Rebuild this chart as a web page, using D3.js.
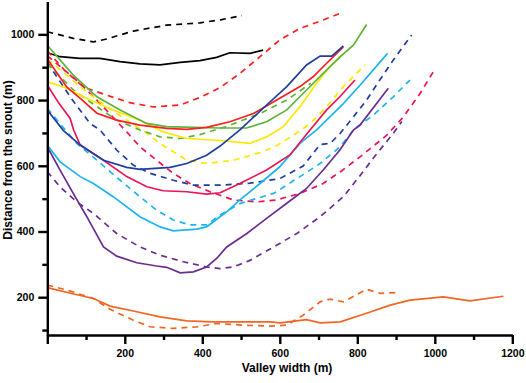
<!DOCTYPE html>
<html>
<head>
<meta charset="utf-8">
<script src="https://cdn.jsdelivr.net/npm/d3@7"></script>
<style>
  body { margin: 0; background: #fff; }
  svg text { font-family: "Liberation Sans", Arial, sans-serif; font-weight: bold; }
</style>
</head>
<body>
<div id="chart"></div>
<script>
// valley width (m) vs distance from the snout (m), one profile per series
const blackDashed = [[0,1008],[67,988],[119,977],[153,986],[222,1010],[308,1028],[394,1035],[450,1045],[502,1057]]
const blackSolid = [[0,944],[33,932],[84,927],[136,927],[188,917],[239,910],[291,907],[343,915],[394,920],[437,930],[471,944],[523,942],[557,952]]
const redDashed = [[0,950],[45,890],[93,840],[153,815],[213,792],[274,779],[343,785],[394,808],[446,838],[497,881],[549,932],[600,983],[652,1018],[704,1040],[756,1064]]
const redSolid = [[0,925],[50,840],[85,805],[128,760],[179,739],[239,724],[308,714],[360,711],[411,717],[471,734],[532,759],[592,800],[652,841],[686,871],[721,912],[764,962]]
const greenSolid = [[0,967],[67,876],[128,810],[188,770],[256,729],[308,719],[377,717],[446,715],[514,715],[566,734],[618,770],[660,820],[712,881],[756,932],[790,967],[824,1030]]
const greenDashed = [[0,910],[68,830],[128,780],[179,739],[239,709],[291,688],[343,683],[394,695],[463,720],[549,759],[618,800],[680,851]]
const yellowSolid = [[0,856],[50,836],[110,800],[170,770],[239,739],[299,703],[360,683],[446,677],[523,668],[566,688],[609,719],[652,780],[695,851],[729,901],[760,937]]
const yellowDashed = [[0,925],[50,876],[101,825],[153,780],[205,739],[256,700],[291,668],[360,617],[411,607],[481,617],[549,640],[592,661],[635,693],[678,728],[721,780],[764,841],[820,907]]
const blueSolid = [[0,770],[41,708],[85,663],[145,617],[205,595],[239,589],[317,595],[360,607],[411,632],[446,660],[497,709],[566,785],[618,841],[669,907],[704,934],[734,934],[764,965]]
const blueDashed = [[0,915],[59,810],[110,729],[136,709],[179,648],[222,602],[265,577],[325,556],[377,541],[446,541],[523,547],[600,561],[661,600],[704,665],[730,668],[756,699],[790,749],[824,800],[858,861],[893,922],[940,998]]
const crimsonSolid = [[0,846],[30,790],[59,744],[68,709],[85,663],[145,617],[205,567],[257,536],[299,524],[360,521],[411,514],[446,518],[497,546],[566,587],[626,633],[678,709],[721,770],[755,810],[794,861]]
const crimsonDashed = [[0,935],[85,851],[136,790],[205,703],[239,658],[282,617],[325,577],[368,546],[420,521],[480,496],[540,490],[592,496],[652,516],[712,546],[760,585],[807,627],[876,693],[919,749],[962,820],[996,886]]
const cyanSolid = [[0,663],[33,612],[85,567],[119,546],[170,506],[239,445],[291,414],[325,402],[386,407],[411,414],[463,460],[497,496],[549,546],[600,597],[652,668],[695,709],[764,789],[807,845],[878,942]]
const cyanDashed = [[0,775],[40,718],[76,668],[128,617],[188,556],[239,506],[282,465],[325,435],[368,420],[411,420],[446,450],[497,485],[584,516],[652,567],[704,607],[756,658],[790,709],[841,754],[893,810],[936,861]]
const purpleSolid = [[0,658],[33,587],[67,516],[102,445],[145,353],[179,325],[231,305],[282,295],[308,291],[343,274],[377,277],[411,292],[437,318],[463,353],[515,394],[566,440],[618,486],[669,531],[712,587],[755,648],[790,709],[807,724],[880,836]]
const purpleDashed = [[0,582],[33,536],[76,490],[119,455],[179,394],[239,353],[291,328],[351,308],[411,292],[446,287],[480,292],[523,312],[584,353],[644,394],[704,445],[764,506],[807,570],[841,623],[893,699],[915,735]]
const orangeSolid = [[0,229],[60,212],[119,196],[162,173],[222,158],[291,140],[360,128],[429,125],[498,125],[575,125],[601,122],[669,132],[704,122],[756,125],[824,151],[885,176],[936,191],[1022,201],[1091,189],[1177,203]]
const orangeDashed = [[0,237],[50,222],[119,196],[162,163],[222,130],[265,110],[325,105],[386,110],[437,120],[506,115],[575,112],[618,115],[661,146],[704,186],[730,194],[764,186],[824,224],[859,212],[902,214]]

const xMajor = [0, 200, 400, 600, 800, 1000, 1200]
const xMinor = [100, 300, 500, 700, 900, 1100]
const yMajor = [200, 400, 600, 800, 1000]
const yMinor = [100, 300, 500, 700, 900]

// drawing order and look of each profile
const series = [
  {data: blackDashed, color: '#000000', dash: true},
  {data: blackSolid, color: '#000000', dash: false},
  {data: redDashed, color: '#ff1f1f', dash: true},
  {data: purpleDashed, color: '#6b2c91', dash: true},
  {data: crimsonDashed, color: '#ec1556', dash: true},
  {data: cyanDashed, color: '#1cb5ee', dash: true},
  {data: blueDashed, color: '#1e3ea0', dash: true},
  {data: yellowDashed, color: '#ffe800', dash: true},
  {data: greenDashed, color: '#5db43a', dash: true},
  {data: purpleSolid, color: '#6b2c91', dash: false},
  {data: cyanSolid, color: '#1cb5ee', dash: false},
  {data: crimsonSolid, color: '#ec1556', dash: false},
  {data: yellowSolid, color: '#ffe800', dash: false},
  {data: greenSolid, color: '#5db43a', dash: false},
  {data: redSolid, color: '#ff1f1f', dash: false},
  {data: blueSolid, color: '#1e3ea0', dash: false},
  {data: orangeDashed, color: '#f26522', dash: true},
  {data: orangeSolid, color: '#f26522', dash: false}
]

const width = 526, height = 383

const x = d3.scaleLinear().domain([0, 1200]).range([47.3, 512.3])
const y = d3.scaleLinear().domain([85, 1100]).range([335, 1.5])

const svg = d3.select('#chart').append('svg')
  .attr('width', width).attr('height', height)

const line = d3.line().x(d => x(d[0])).y(d => y(d[1]))

svg.append('g').selectAll('path')
  .data(series)
  .join('path')
  .attr('d', d => line(d.data))
  .attr('fill', 'none')
  .attr('stroke', d => d.color)
  .attr('stroke-width', 1.7)
  .attr('stroke-dasharray', d => d.dash ? '6,5' : null)

// x axis: labelled majors + short minors
const xAxis = svg.append('g').attr('transform', `translate(0, ${y(85)})`)
xAxis.call(d3.axisBottom(x).tickValues(xMajor).tickSize(9).tickSizeOuter(0).tickPadding(6)
  .tickFormat(d => d === 0 ? '' : d3.format('d')(d)))
xAxis.append('g').call(d3.axisBottom(x).tickValues(xMinor).tickSize(5).tickFormat(''))
  .select('.domain').remove()

const yAxis = svg.append('g').attr('transform', `translate(${x(0)}, 0)`)
yAxis.call(d3.axisLeft(y).tickValues(yMajor).tickSize(9).tickSizeOuter(0).tickPadding(4)
  .tickFormat(d3.format('d')))
yAxis.append('g').call(d3.axisLeft(y).tickValues(yMinor).tickSize(5).tickFormat(''))
  .select('.domain').remove()

svg.selectAll('.domain, .tick line')
  .attr('stroke', '#000').attr('stroke-width', 2.4)
svg.selectAll('.tick text')
  .attr('fill', '#000').style('font-size', '10.5px').style('font-weight', 'bold')

svg.append('text')
  .attr('x', 287).attr('y', 372)
  .attr('text-anchor', 'middle')
  .style('font-size', '12px')
  .text('Valley width (m)')

svg.append('text')
  .attr('transform', 'translate(12, 160) rotate(-90)')
  .attr('text-anchor', 'middle')
  .style('font-size', '12px')
  .text('Distance from the snout (m)')
</script>
</body>
</html>
